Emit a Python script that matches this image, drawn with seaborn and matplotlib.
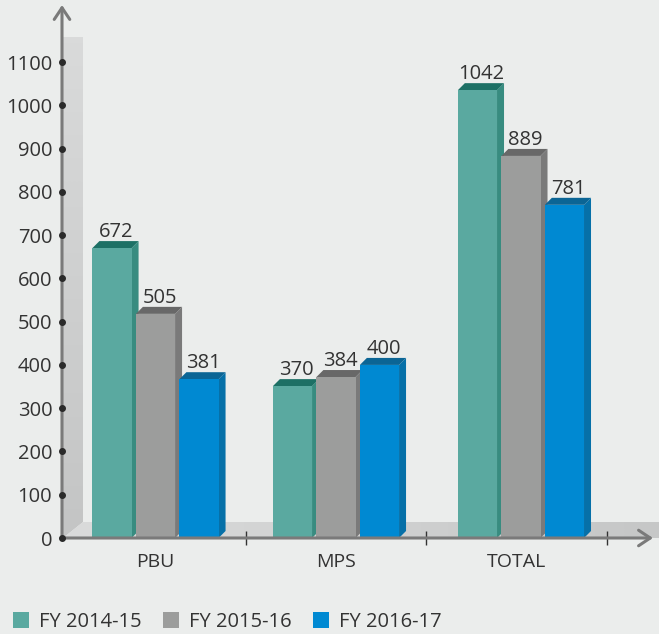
"""Grouped bars with a fake 3D look: FY 2014-15 to FY 2016-17."""

import matplotlib.pyplot as plt
import numpy as np
import pandas as pd
import seaborn as sns
from matplotlib.colors import LinearSegmentedColormap
from matplotlib.patches import Polygon
from matplotlib.transforms import Affine2D

categories = ['PBU', 'MPS', 'TOTAL']
series_names = ['FY 2014-15', 'FY 2015-16', 'FY 2016-17']

# printed values
labels_2014 = [672, 370, 1042]
labels_2015 = [505, 384, 889]
labels_2016 = [381, 400, 781]

# heights as drawn: the bars in the picture do not quite follow their labels
heights_2014 = [670, 351, 1035]
heights_2015 = [518, 372, 883]
heights_2016 = [367, 400, 770]

y_ticks = list(range(0, 1200, 100))

BG = '#EBEDEC'
TEXT = '#333333'
AXIS = '#7A7A7A'
FRONT = ['#5AA9A0', '#9C9D9C', '#0089D2']
SIDE = ['#388C80', '#7A7A7A', '#0670A8']
TOP = ['#1D7065', '#686868', '#0B6595']

W, H = 659, 634
DEPTH = 7  # px

sns.set_theme(style='white')
plt.rcParams['font.family'] = ['Open Sans', 'DejaVu Sans']

df = pd.DataFrame({
    'group': categories * 3,
    'year': [s for s in series_names for _ in categories],
    'height': heights_2014 + heights_2015 + heights_2016,
})
printed = [labels_2014, labels_2015, labels_2016]

fig = plt.figure(figsize=(W / 100, H / 100), dpi=100, facecolor=BG)
ax = fig.add_axes([62 / W, (H - 538) / H, (650 - 62) / W, 533 / H], facecolor='none')

sns.barplot(data=df, x='group', y='height', hue='year', order=categories,
            hue_order=series_names, palette=FRONT, width=0.723, gap=0.1,
            saturation=1, linewidth=0, ax=ax, errorbar=None)

# picture pixels, y going down, for the backdrop and axis arrows
px = Affine2D().scale(1, -1).translate(0, H)


def backdrop(points, extent, colors, vertical):
    """Shaded wall or floor of the fake 3D box."""
    cmap = LinearSegmentedColormap.from_list('shade', colors)
    ramp = np.linspace(0, 1, 64)
    ramp = ramp.reshape(-1, 1) if vertical else ramp.reshape(1, -1)
    shape = Polygon(points, closed=True, facecolor='none', edgecolor='none',
                    transform=px, clip_on=False)
    ax.add_patch(shape)
    im = ax.imshow(ramp, extent=extent, origin='upper', aspect='auto', cmap=cmap,
                   transform=px, zorder=0, interpolation='bilinear')
    im.set_clip_box(fig.bbox)
    im.set_clip_path(shape)


backdrop([(63, 37), (83, 37), (83, 522), (63, 538)], (63, 83, 538, 37),
         ['#D9DADA', '#C4C5C5'], True)
backdrop([(63, 538), (83, 522), (659, 522), (659, 538)], (63, 659, 538, 522),
         ['#DADBDB', '#C6C7C7'], False)

ax.set_xlim(-0.518, 2.74)
ax.set_ylim(0, 533 / 0.4327)
ax.set_xlabel('')
ax.set_ylabel('')
sns.despine(ax=ax, left=True, bottom=True, top=True, right=True)

# 3D faces and value labels, built on the bars seaborn drew
x_scale = 180.5
y_scale = 0.4327
dx = DEPTH / x_scale
dy = DEPTH / y_scale
for i, container in enumerate(ax.containers):
    for j, bar in enumerate(container):
        # TOTAL group sits a little right of its slot in the picture
        if j == 2:
            bar.set_x(bar.get_x() + 4.5 / x_scale)
        x0, x1 = bar.get_x(), bar.get_x() + bar.get_width()
        h = bar.get_height()
        bar.set_zorder(4 + 2 * i)
        ax.add_patch(Polygon([(x1, 0), (x1 + dx, dy), (x1 + dx, h + dy), (x1, h)],
                             closed=True, facecolor=SIDE[i], edgecolor='none',
                             zorder=3 + 2 * i))
        ax.add_patch(Polygon([(x0, h), (x0 + dx, h + dy), (x1 + dx, h + dy), (x1, h)],
                             closed=True, facecolor=TOP[i], edgecolor='none',
                             zorder=3 + 2 * i))
        ax.annotate(str(printed[i][j]), ((x0 + x1) / 2, h), xytext=(3, 11.5),
                    textcoords='offset points', ha='center', va='center',
                    fontsize=14.5, color=TEXT, zorder=12)

# axes with open arrow heads
head = dict(arrowstyle='->,head_length=0.6,head_width=0.4', color=AXIS, lw=2.2,
            shrinkA=0, shrinkB=0, mutation_scale=14)
ax.annotate('', xy=(62, 5), xytext=(62, 539), xycoords=px, textcoords=px,
            arrowprops=head, zorder=11, annotation_clip=False)
ax.annotate('', xy=(653, 538), xytext=(61, 538), xycoords=px, textcoords=px,
            arrowprops=head, zorder=11, annotation_clip=False)

ax.set_yticks(y_ticks)
ax.set_xticks([0, 1, 2])
ax.set_xticklabels(categories)
ax.set_xticks([0.5, 1.5, 2.5], minor=True)
ax.tick_params(axis='y', length=0, pad=7, labelsize=14.5, labelcolor=TEXT)
ax.tick_params(axis='x', which='major', length=0, pad=11, labelsize=14, labelcolor=TEXT)
ax.tick_params(axis='x', which='minor', bottom=True, length=10, width=1,
               direction='inout', color='#333333')
ax.plot([0] * len(y_ticks), y_ticks, linestyle='none', marker='o', ms=4,
        color='#2A2A2A', transform=ax.get_yaxis_transform(), clip_on=False, zorder=13)

sns.move_legend(ax, 'lower left', bbox_to_anchor=(13 / W, 2 / H),
                bbox_transform=fig.transFigure, ncol=3, frameon=False, title=None,
                fontsize=14.5, labelcolor=TEXT, handlelength=0.8, handleheight=0.8,
                handletextpad=0.5, columnspacing=1.05, borderpad=0, borderaxespad=0)

fig.savefig('out.png', dpi=100, facecolor=BG)
